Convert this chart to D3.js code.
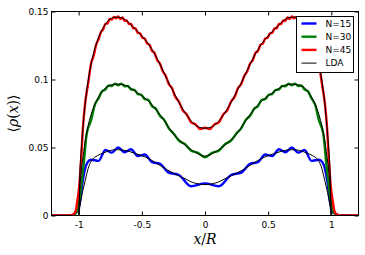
<!DOCTYPE html>
<html>
<head>
<meta charset="utf-8">
<script src="https://cdn.jsdelivr.net/npm/d3@7"></script>
<style>
  body { margin: 0; background: #fff; }
  svg { display: block; }
</style>
</head>
<body>
<svg width="365" height="255"></svg>
<script>
// axis limits and ticks
const xLimits = [-1.215, 1.215];
const yLimits = [0, 0.15];
const xTicks = [-1, -0.5, 0, 0.5, 1];
const xTickLabels = ["-1", "-0.5", "0", "0.5", "1"];
const yTicks = [0, 0.05, 0.1, 0.15];
const yTickLabels = ["0", "0.05", "0.1", "0.15"];

// LDA profiles, shared x grid
const xLda = [-1.215, -1.0, -0.99, -0.98, -0.97, -0.96, -0.95, -0.94, -0.92, -0.90, -0.85, -0.80, -0.75, -0.70, -0.65, -0.60, -0.55, -0.50, -0.45, -0.40, -0.35, -0.30, -0.25, -0.20, -0.15, -0.10, -0.05,
  0,
  0.05, 0.10, 0.15, 0.20, 0.25, 0.30, 0.35, 0.40, 0.45, 0.50, 0.55, 0.60, 0.65, 0.70, 0.75, 0.80, 0.85, 0.90, 0.92, 0.94, 0.95, 0.96, 0.97, 0.98, 0.99, 1.0, 1.215];
const ldaN15 = [0, 0, 0.007, 0.012, 0.017, 0.021, 0.025, 0.029, 0.036, 0.0400, 0.0441, 0.0461, 0.0478, 0.0484, 0.0481, 0.0471, 0.0456, 0.0440, 0.0420, 0.0394, 0.0365, 0.0336, 0.0311, 0.0288, 0.0267, 0.0244, 0.0232,
  0.0227,
  0.0232, 0.0244, 0.0267, 0.0288, 0.0311, 0.0336, 0.0365, 0.0394, 0.0420, 0.0440, 0.0456, 0.0471, 0.0481, 0.0484, 0.0478, 0.0461, 0.0441, 0.0400, 0.036, 0.029, 0.025, 0.021, 0.017, 0.012, 0.007, 0, 0];
const ldaN30 = [0, 0, 0.021, 0.032, 0.040, 0.047, 0.054, 0.059, 0.068, 0.0747, 0.086, 0.0927, 0.0958, 0.0966, 0.0963, 0.0943, 0.0913, 0.0880, 0.0843, 0.0793, 0.0733, 0.0667, 0.0598, 0.0552, 0.0512, 0.0478, 0.0452,
  0.0436,
  0.0452, 0.0478, 0.0512, 0.0552, 0.0598, 0.0667, 0.0733, 0.0793, 0.0843, 0.0880, 0.0913, 0.0943, 0.0963, 0.0966, 0.0958, 0.0927, 0.086, 0.0747, 0.068, 0.059, 0.054, 0.047, 0.040, 0.032, 0.021, 0, 0];
const ldaN45 = [0, 0, 0.032, 0.048, 0.060, 0.071, 0.081, 0.089, 0.102, 0.112, 0.129, 0.139, 0.1445, 0.146, 0.145, 0.1415, 0.137, 0.132, 0.1265, 0.119, 0.110, 0.100, 0.091, 0.082, 0.0745, 0.0685, 0.065,
  0.0642,
  0.065, 0.0685, 0.0745, 0.082, 0.091, 0.100, 0.110, 0.119, 0.1265, 0.132, 0.137, 0.1415, 0.145, 0.146, 0.1445, 0.139, 0.129, 0.112, 0.102, 0.089, 0.081, 0.071, 0.060, 0.048, 0.032, 0, 0];

// exact densities (read at the wiggle extrema)
const xN15 = [-1.215, -1.08, -1.05, -1.02, -1.0, -0.985, -0.97, -0.95, -0.93, -0.9016, -0.8422, -0.7884, -0.7373, -0.6871, -0.6367, -0.5853, -0.5323, -0.4772, -0.4192, -0.3569, -0.2868, -0.2064, -0.1102,
  0,
  0.1102, 0.2064, 0.2868, 0.3569, 0.4192, 0.4772, 0.5323, 0.5853, 0.6367, 0.6871, 0.7373, 0.7884, 0.8422, 0.9016, 0.93, 0.95, 0.97, 0.985, 1.0, 1.02, 1.05, 1.08, 1.215];
const rhoN15 = [0, 0, 0.0005, 0.002, 0.0055, 0.013, 0.024, 0.034, 0.039, 0.0410, 0.0402, 0.0482, 0.0462, 0.0500, 0.0465, 0.0487, 0.0437, 0.0448, 0.0392, 0.0380, 0.0315, 0.0298, 0.0215,
  0.0236,
  0.0215, 0.0298, 0.0315, 0.0380, 0.0392, 0.0448, 0.0437, 0.0487, 0.0465, 0.0500, 0.0462, 0.0482, 0.0402, 0.0410, 0.039, 0.034, 0.024, 0.013, 0.0055, 0.002, 0.0005, 0, 0];

const xN30 = [-1.215, -1.06, -1.03, -1.0, -0.98, -0.96, -0.9365, -0.9016, -0.8714, -0.8422, -0.8150, -0.7884, -0.7627, -0.7373, -0.7122, -0.6871, -0.6620, -0.6367, -0.6112, -0.5853, -0.5591, -0.5323, -0.5052, -0.4772, -0.4489, -0.4192, -0.3887, -0.3569, -0.3227, -0.2868, -0.2484, -0.2064, -0.1602, -0.1102, -0.0561,
  0,
  0.0561, 0.1102, 0.1602, 0.2064, 0.2484, 0.2868, 0.3227, 0.3569, 0.3887, 0.4192, 0.4489, 0.4772, 0.5052, 0.5323, 0.5591, 0.5853, 0.6112, 0.6367, 0.6620, 0.6871, 0.7122, 0.7373, 0.7627, 0.7884, 0.8150, 0.8422, 0.8714, 0.9016, 0.9365, 0.96, 0.98, 1.0, 1.03, 1.06, 1.215];
const rhoN30 = [0, 0, 0.001, 0.008, 0.022, 0.038, 0.0600, 0.0700, 0.0815, 0.0862, 0.0913, 0.0926, 0.0956, 0.0952, 0.0970, 0.0957, 0.0970, 0.0950, 0.0953, 0.0926, 0.0924, 0.0893, 0.0889, 0.0855, 0.0850, 0.0804, 0.0785, 0.0733, 0.0703, 0.0641, 0.0603, 0.0550, 0.0526, 0.0477, 0.0461,
  0.0428,
  0.0461, 0.0477, 0.0526, 0.0550, 0.0603, 0.0641, 0.0703, 0.0733, 0.0785, 0.0804, 0.0850, 0.0855, 0.0889, 0.0893, 0.0924, 0.0926, 0.0953, 0.0950, 0.0970, 0.0957, 0.0970, 0.0952, 0.0956, 0.0926, 0.0913, 0.0862, 0.0815, 0.0700, 0.0600, 0.038, 0.022, 0.008, 0.001, 0, 0];

const xN45 = [-1.215, -1.07, -1.04, -1.025, -1.01, -0.995, -0.98, -0.965, -0.9507, -0.9243, -0.9016, -0.8815, -0.8614, -0.8422, -0.8241, -0.8059, -0.7884, -0.7713, -0.7541, -0.7373, -0.7206, -0.7038, -0.6871, -0.6704, -0.6536, -0.6367, -0.6197, -0.6027, -0.5853, -0.5679, -0.5504, -0.5323, -0.5142, -0.4960, -0.4772, -0.4584, -0.4390, -0.4192, -0.3994, -0.3781, -0.3569, -0.3343, -0.3111, -0.2868, -0.2614, -0.2345, -0.2064, -0.1759, -0.1442, -0.1102, -0.0745, -0.0376,
  0,
  0.0376, 0.0745, 0.1102, 0.1442, 0.1759, 0.2064, 0.2345, 0.2614, 0.2868, 0.3111, 0.3343, 0.3569, 0.3781, 0.3994, 0.4192, 0.4390, 0.4584, 0.4772, 0.4960, 0.5142, 0.5323, 0.5504, 0.5679, 0.5853, 0.6027, 0.6197, 0.6367, 0.6536, 0.6704, 0.6871, 0.7038, 0.7206, 0.7373, 0.7541, 0.7713, 0.7884, 0.8059, 0.8241, 0.8422, 0.8614, 0.8815, 0.9016, 0.9243, 0.9507, 0.965, 0.98, 0.995, 1.01, 1.025, 1.04, 1.07, 1.215];
const rhoN45 = [0, 0, 0.001, 0.003, 0.011, 0.022, 0.042, 0.066, 0.0810, 0.0975, 0.1118, 0.1172, 0.1257, 0.1297, 0.1348, 0.1369, 0.1409, 0.1413, 0.1446, 0.1440, 0.1460, 0.1450, 0.1463, 0.1445, 0.1457, 0.1432, 0.1435, 0.1408, 0.1408, 0.1377, 0.1376, 0.1343, 0.1340, 0.1307, 0.1301, 0.1265, 0.1255, 0.1210, 0.1195, 0.1142, 0.1118, 0.1060, 0.1028, 0.0967, 0.0937, 0.0872, 0.0838, 0.0773, 0.0743, 0.0685, 0.0670, 0.0635,
  0.0645,
  0.0635, 0.0670, 0.0685, 0.0743, 0.0773, 0.0838, 0.0872, 0.0937, 0.0967, 0.1028, 0.1060, 0.1118, 0.1142, 0.1195, 0.1210, 0.1255, 0.1265, 0.1301, 0.1307, 0.1340, 0.1343, 0.1376, 0.1377, 0.1408, 0.1408, 0.1435, 0.1432, 0.1457, 0.1445, 0.1463, 0.1450, 0.1460, 0.1440, 0.1446, 0.1413, 0.1409, 0.1369, 0.1348, 0.1297, 0.1257, 0.1172, 0.1118, 0.0975, 0.0810, 0.066, 0.042, 0.022, 0.011, 0.003, 0.001, 0, 0];

const seriesNames = ["N=15", "N=30", "N=45", "LDA"];
const seriesColors = ["#0000ff", "#008000", "#ff0000", "#000000"];

const svg = d3.select("svg");
const pL = 51.5, pR = 358.5, pT = 11.5, pB = 215.5;

const x = d3.scaleLinear().domain(xLimits).range([pL, pR]);
const y = d3.scaleLinear().domain(yLimits).range([pB, pT]);

svg.append("rect").attr("width", 365).attr("height", 255).attr("fill", "#fff");

svg.append("clipPath").attr("id", "plotclip")
  .append("rect")
    .attr("x", pL).attr("y", pT - 2)
    .attr("width", pR - pL).attr("height", pB - pT + 2);

const line = d3.line()
  .x(d => x(d[0]))
  .y(d => y(d[1]))
  .curve(d3.curveMonotoneX);

const plot = svg.append("g").attr("clip-path", "url(#plotclip)");

const exact = [[xN15, rhoN15], [xN30, rhoN30], [xN45, rhoN45]];
exact.forEach(function(s, i) {
  plot.append("path")
    .datum(d3.zip(s[0], s[1]))
    .attr("fill", "none")
    .attr("stroke", seriesColors[i])
    .attr("stroke-width", 2.4)
    .attr("stroke-linejoin", "round")
    .attr("d", line);
});

[ldaN15, ldaN30, ldaN45].forEach(function(v) {
  plot.append("path")
    .datum(d3.zip(xLda, v))
    .attr("fill", "none")
    .attr("stroke", "#000")
    .attr("stroke-width", 1)
    .attr("d", line);
});

// axes, matplotlib style ticks pointing inward on all sides
const font = "DejaVu Sans, sans-serif";

const gx = svg.append("g")
  .attr("transform", `translate(0,${pB})`)
  .call(d3.axisBottom(x).tickValues(xTicks)
    .tickFormat((d, i) => xTickLabels[i])
    .tickSizeInner(-4).tickSizeOuter(0).tickPadding(6));
const gy = svg.append("g")
  .attr("transform", `translate(${pL},0)`)
  .call(d3.axisLeft(y).tickValues(yTicks)
    .tickFormat((d, i) => yTickLabels[i])
    .tickSizeInner(-4).tickSizeOuter(0).tickPadding(3));
const gt = svg.append("g")
  .attr("transform", `translate(0,${pT})`)
  .call(d3.axisTop(x).tickValues(xTicks).tickFormat("")
    .tickSizeInner(-4).tickSizeOuter(0));
const gr = svg.append("g")
  .attr("transform", `translate(${pR},0)`)
  .call(d3.axisRight(y).tickValues(yTicks).tickFormat("")
    .tickSizeInner(-4).tickSizeOuter(0));

[gx, gy, gt, gr].forEach(function(g) {
  g.select(".domain").remove();
  g.selectAll("line").attr("stroke", "#000");
  g.selectAll("text").attr("font-family", font).attr("font-size", 9).attr("fill", "#000");
});

svg.append("rect")
  .attr("x", pL).attr("y", pT)
  .attr("width", pR - pL).attr("height", pB - pT)
  .attr("fill", "none").attr("stroke", "#000").attr("stroke-width", 1);

// axis labels
const xl = svg.append("text")
  .attr("x", (pL + pR) / 2).attr("y", 244)
  .attr("text-anchor", "middle")
  .attr("font-family", "DejaVu Serif, serif")
  .attr("font-size", 14);
xl.append("tspan").attr("font-style", "italic").text("x");
xl.append("tspan").text("/");
xl.append("tspan").attr("font-style", "italic").text("R");

const yl = svg.append("text")
  .attr("transform", `translate(18,${(pT + pB) / 2}) rotate(-90)`)
  .attr("text-anchor", "middle")
  .attr("font-family", "DejaVu Serif, serif")
  .attr("font-size", 14);
yl.append("tspan").text("\u27E8");
yl.append("tspan").attr("font-style", "italic").text("\u03C1");
yl.append("tspan").text("(");
yl.append("tspan").attr("font-style", "italic").text("x");
yl.append("tspan").text(")");
yl.append("tspan").text("\u27E9");

// legend
const legend = svg.append("g").attr("transform", "translate(296,16)");
legend.append("rect")
  .attr("x", 0.5).attr("y", 0.5)
  .attr("width", 57).attr("height", 56)
  .attr("fill", "#fff").attr("stroke", "#000").attr("stroke-width", 1);

const row = legend.selectAll("g.row")
  .data(seriesNames)
  .join("g")
    .attr("class", "row")
    .attr("transform", (d, i) => `translate(0,${7.5 + i * 13.2})`);

row.append("line")
  .attr("x1", 5.5).attr("x2", 20.5)
  .attr("stroke", (d, i) => seriesColors[i])
  .attr("stroke-width", (d, i) => i < 3 ? 2.4 : 1);

row.append("text")
  .attr("x", 29.5).attr("y", 3.3)
  .attr("font-family", font)
  .attr("font-size", 9)
  .text(d => d);
</script>
</body>
</html>
